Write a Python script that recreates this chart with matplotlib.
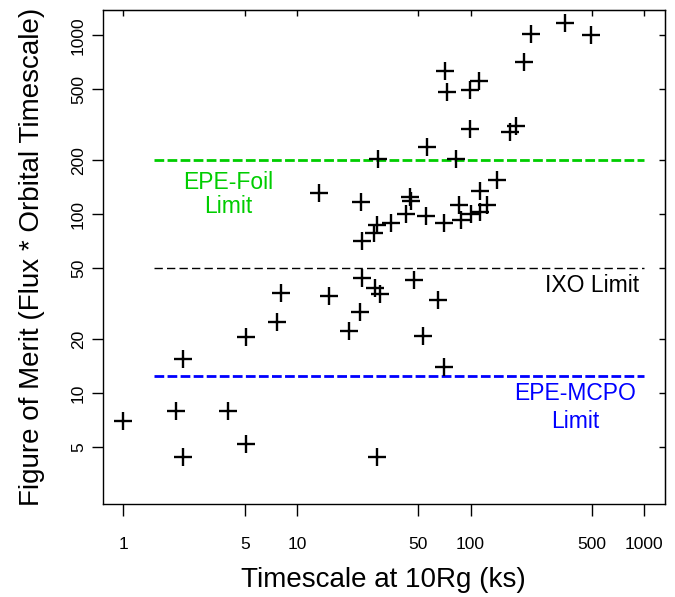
import matplotlib
matplotlib.use("Agg")
import matplotlib.pyplot as plt

plt.rcParams['font.family'] = ['Liberation Sans', 'DejaVu Sans']

# timescale at 10Rg (ks) and figure of merit
timescale = [1.0, 2.0, 2.2, 2.2, 4.0, 5.1, 5.1, 7.7, 8.1, 13.3,
             15.2, 20.0, 23.0, 23.8, 23.6, 23.3, 28.0, 30.0, 29.0, 27.9,
             29.0, 29.4, 35.0, 42.3, 44.8, 45.2, 47.0, 53.0, 55.0, 56.0,
             65.0, 70.0, 70.0, 71.0, 73.0, 82.0, 86.0, 87.5, 99.0, 99.0,
             101.0, 112.0, 113.0, 113.0, 124.0, 142.0, 169.0, 183.0, 203.0, 222.0,
             350.0, 494.0]
merit = [7.0, 8.0, 4.4, 15.5, 8.0, 20.5, 5.2, 25.0, 36.5, 132.0,
         35.0, 22.3, 28.5, 44.0, 71.0, 117.0, 39.0, 36.0, 4.4, 79.0,
         87.0, 205.0, 89.0, 100.0, 125.0, 118.0, 43.0, 21.0, 98.0, 237.0,
         33.0, 14.0, 90.0, 635.0, 485.0, 205.0, 113.0, 93.0, 495.0, 298.0,
         101.0, 555.0, 103.0, 135.0, 113.0, 155.0, 287.0, 311.0, 705.0, 1015.0,
         1167.0, 1010.0]

# instrument limits
limit_values = [200, 50, 12.5]
limit_colors = ["#00CD00", "black", "#0000FF"]

# label lines for the limits: text, colour, x, y
label_text = ["EPE-Foil", "Limit", "IXO Limit", "EPE-MCPO", "Limit"]
label_color = ["#00CD00", "#00CD00", "black", "#0000FF", "#0000FF"]
label_x = [4.0, 4.0, 500, 400, 400]
label_y = [150, 110, 40, 10, 7]

xticks = [1, 5, 10, 50, 100, 500, 1000]
yticks = [5, 10, 20, 50, 100, 200, 500, 1000]

fig = plt.figure(figsize=(6.75, 5.97), dpi=100)
ax = fig.add_axes([0.1521, 0.1558, 0.8331, 0.8274])
ax.set_xscale('log')
ax.set_yscale('log')
ax.set_xlim(10 ** -0.12, 10 ** 3.12)
ax.set_ylim(10 ** 0.3816, 10 ** 3.1413)

for val, col in zip(limit_values, limit_colors):
    if col == "black":
        ax.plot([1.5, 1000], [val, val], color=col, lw=1.0, dashes=(6, 3))
    else:
        ax.plot([1.5, 1000], [val, val], color=col, lw=2.0, dashes=(3.5, 1.2))

ax.plot(timescale, merit, linestyle='none', marker='+', markersize=13,
        markeredgewidth=1.7, color='black')

for t, c, tx, ty in zip(label_text, label_color, label_x, label_y):
    ax.text(tx, ty, t, color=c, fontsize=16.5, ha='center', va='center')

ax.set_xticks(xticks)
ax.set_xticklabels([str(t) for t in xticks])
ax.set_yticks(yticks)
ax.set_yticklabels([str(t) for t in yticks], rotation=90, va='center')
ax.minorticks_off()
ax.tick_params(axis='x', direction='out', length=8.5, width=1.0, labelsize=12.5, pad=15)
ax.tick_params(axis='y', direction='out', length=8, width=1.0, labelsize=12.5, pad=4)
for sp in ax.spines.values():
    sp.set_linewidth(1.0)

# small inward ticks on top and right
top = ax.secondary_xaxis('top')
top.set_xticks(xticks)
top.tick_params(direction='in', length=4, width=1.0, labelbottom=False, labeltop=False)
top.xaxis.set_minor_locator(matplotlib.ticker.NullLocator())
right = ax.secondary_yaxis('right')
right.set_yticks(yticks)
right.tick_params(direction='in', length=4, width=1.0, labelleft=False, labelright=False)
right.yaxis.set_minor_locator(matplotlib.ticker.NullLocator())

ax.set_xlabel("Timescale at 10Rg (ks)", fontsize=20, va='center')
ax.xaxis.set_label_coords(0.5, -0.1538)
ax.set_ylabel("Figure of Merit (Flux * Orbital Timescale)", fontsize=20, va='center')
ax.yaxis.set_label_coords(-0.1257, 0.5)

fig.savefig("out.png", dpi=100)
